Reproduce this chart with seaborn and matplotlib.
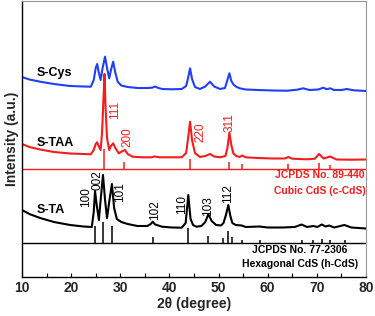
import matplotlib
matplotlib.use("Agg")
import matplotlib.pyplot as plt
import seaborn as sns
import pandas as pd

# ---------------- data ----------------
cys_x = [10.0, 11.5, 13.7, 16.5, 19.8, 22.5, 24.0, 24.6, 25.0, 25.3, 25.6, 26.0, 26.4, 26.9, 27.3,
         27.75, 28.1, 28.55, 29.0, 29.5, 30.2, 31.5, 33.5, 35.5, 36.5, 37.05, 37.6, 38.5, 40.5, 42.5,
         43.4, 43.8, 44.2, 44.6, 45.2, 46.2, 47.3, 48.25, 49.1, 50.3, 51.3, 51.8, 52.2, 52.6, 53.0,
         53.5, 54.3, 55.5, 58.0, 61.0, 64.0, 66.0, 67.2, 68.5, 70.3, 71.3, 72.0, 72.7, 73.5, 75.0,
         76.1, 77.5, 80.0]
cys_y = [200, 197.5, 195.3, 193, 191, 190.5, 190.3, 197, 209, 213, 205, 197, 209, 220.3, 209,
         198.7, 207, 215.3, 204, 195, 191.5, 190, 189, 189, 189.3, 190.5, 189.3, 188, 187.7, 188,
         191, 199, 208.7, 198, 190, 188, 190.5, 195.3, 190.5, 188, 189, 197, 203.7, 196, 192.7,
         190.5, 188.7, 187.5, 187, 186.5, 186.3, 187.3, 188.7, 187, 187.5, 189.3, 187.8, 188.7, 187, 187,
         188, 186.7, 186]

taa_x = [10.0, 11.5, 13.7, 16.5, 19.8, 22.5, 24.0, 24.6, 25.0, 25.3, 25.6, 26.0, 26.3, 26.55, 26.8,
         27.0, 27.3, 27.75, 28.1, 28.55, 29.0, 29.7, 30.3, 30.95, 31.5, 32.5, 34.5, 36.3, 37.0, 38.0,
         42.5, 43.4, 43.8, 44.2, 44.6, 45.2, 46.2, 47.3, 48.25, 49.1, 50.3, 51.4, 51.8, 52.2, 52.6,
         53.0, 53.6, 54.3, 54.8, 55.5, 58.0, 61.0, 63.5, 64.2, 65.0, 68.0, 69.6, 70.45, 71.4, 72.7,
         74.0, 77.0, 80.0]
taa_y = [133, 130, 127.5, 125, 123.5, 123, 122.7, 127, 133, 134.7, 131, 127, 145, 175, 203,
         170, 139, 127, 131, 133.7, 129, 123.7, 125.5, 127, 123, 120.3, 119.7, 119.7, 120.5, 119.7,
         119.7, 124, 139, 155.3, 137, 124, 120, 121, 123, 120.5, 119.7, 121, 129, 144.3, 132,
         123.7, 121, 120, 121.5, 119.7, 119, 118.5, 118.5, 120, 118.3, 117.7, 118.3, 123, 118.5, 120.5,
         117.5, 117.3, 117.5]

ta_x = [10.0, 11.5, 13.7, 16.5, 19.8, 22.5, 24.2, 24.6, 24.86, 25.2, 25.65, 26.0, 26.48, 26.9, 27.3,
        27.8, 28.3, 28.75, 29.3, 30.2, 31.5, 33.5, 35.5, 36.2, 36.6, 37.1, 38.5, 40.5, 42.5, 43.3,
        43.84, 44.3, 44.8, 45.5, 46.5, 47.3, 47.91, 48.6, 49.5, 50.5, 51.0, 51.5, 51.98, 52.4, 52.8,
        53.5, 54.7, 55.5, 58.3, 60.0, 63.0, 65.5, 66.9, 68.0, 69.3, 70.1, 71.0, 71.8, 72.5, 73.5,
        75.6, 77.0, 80.0]
ta_y = [67, 63, 59, 55, 52, 50.5, 50, 65, 86, 72, 57, 77, 102, 77, 59,
        77, 93, 69, 58, 55, 53, 51, 51, 53, 55.3, 52.5, 50.3, 49.5, 49.3, 54,
        82, 58, 52, 50.3, 51, 55, 62.7, 56, 52, 51.5, 54, 62, 72, 61, 54,
        52, 51.5, 50, 50.5, 49.5, 49.5, 50, 52.5, 50, 51, 50, 52.5, 50.5, 51.5, 49.5,
        52, 49.5, 48.5]

# reference stick patterns
cubic_pos = [26.75, 30.8, 44.1, 52.2, 54.8, 64.2, 70.5, 72.7]
cubic_h = [20, 7, 10, 7.5, 5, 5, 6, 4]
cubic_hkl = ["111", "200", "220", "311"]
hex_pos = [24.85, 26.5, 28.25, 36.65, 43.8, 47.9, 51.0, 51.95, 52.8, 54.7, 58.4, 66.9, 69.3, 71.0, 72.6, 75.7]
hex_h = [17, 21, 17, 6, 15, 7, 5, 12, 6, 3, 3, 3, 3, 4, 3, 3]
hex_hkl = ["100", "002", "101", "102", "110", "103", "112"]

sample_names = ["S-Cys", "S-TAA", "S-TA"]
card_texts = [("JCPDS No. 89-440", "Cubic CdS (c-CdS)"),
              ("JCPDS No. 77-2306", "Hexagonal CdS (h-CdS)")]

# ---------------- style ----------------
sns.set_theme(style="white")
plt.rcParams['font.family'] = ['Liberation Sans', 'DejaVu Sans']

BLUE = "#1f3ff8"
RED = "#f21d1d"
BLACK = "#000000"

fig = plt.figure(figsize=(3.75, 3.16), dpi=100)
ax = fig.add_axes([22/375, 39/316, 344/375, 276/316])

frames = [pd.DataFrame({"x": cys_x, "y": cys_y}),
          pd.DataFrame({"x": taa_x, "y": taa_y}),
          pd.DataFrame({"x": ta_x, "y": ta_y})]
for df, c in zip(frames, [BLUE, RED, BLACK]):
    sns.lineplot(data=df, x="x", y="y", ax=ax, color=c, linewidth=1.5, sort=False, estimator=None)

red_base, black_base = 108, 34
ax.axhline(red_base, color=RED, lw=1.0)
ax.axhline(black_base, color=BLACK, lw=1.0)
ax.vlines(cubic_pos, red_base, [red_base + h for h in cubic_h], color=RED, lw=1.1)
ax.vlines(hex_pos, black_base, [black_base + h for h in hex_h], color=BLACK, lw=1.1)

# sample labels
for name, yy in zip(sample_names, [204, 134, 67]):
    ax.text(13.05, yy, name, fontsize=9, fontweight='bold', va='center', ha='left', color='black')

# hkl labels
cub_lab_pos = [(28.93, 167), (31.5, 140), (46.4, 145), (52.27, 154.5)]
for lab, (xx, yy) in zip(cubic_hkl, cub_lab_pos):
    ax.text(xx, yy, lab, rotation=90, fontsize=8.5, color=RED, ha='center', va='center')
hex_lab_pos = [(23.0, 79.5), (25.4, 97), (30.0, 85), (37.06, 67), (42.5, 73), (47.9, 70.4), (52.0, 83)]
for lab, (xx, yy) in zip(hex_hkl, hex_lab_pos):
    ax.text(xx, yy, lab, rotation=90, fontsize=8.5, color=BLACK, ha='center', va='center')

# card texts
ax.text(70.64, 102, card_texts[0][0], fontsize=7.5, fontweight='bold', color=RED, ha='center', va='center')
ax.text(70.64, 86.3, card_texts[0][1], fontsize=7.5, fontweight='bold', color=RED, ha='center', va='center')
ax.text(66.57, 27.0, card_texts[1][0], fontsize=7.5, fontweight='bold', color=BLACK, ha='center', va='center')
ax.text(66.57, 12.7, card_texts[1][1], fontsize=7.5, fontweight='bold', color=BLACK, ha='center', va='center')

ax.set_xlim(10, 80)
ax.set_ylim(0, 276)
ax.set_xticks(range(10, 81, 10))
ax.set_xticks(range(15, 80, 10), minor=True)
ax.set_yticks([])
ax.tick_params(axis='x', which='both', direction='in', length=3, width=0.8, color='black',
               bottom=True, top=False, pad=3)
for lab in ax.get_xticklabels():
    lab.set_fontweight('bold')
    lab.set_fontsize(10)
ax.set_xlabel("2θ (degree)", fontsize=10, fontweight='bold', labelpad=1)
ax.set_ylabel("Intensity (a.u.)", fontsize=10, fontweight='bold', labelpad=2)

for s in ['left', 'bottom']:
    ax.spines[s].set_color('black')
    ax.spines[s].set_linewidth(1.0)
for s in ['top', 'right']:
    ax.spines[s].set_color('#999999')
    ax.spines[s].set_linewidth(0.8)

fig.savefig("out.png", dpi=100)
